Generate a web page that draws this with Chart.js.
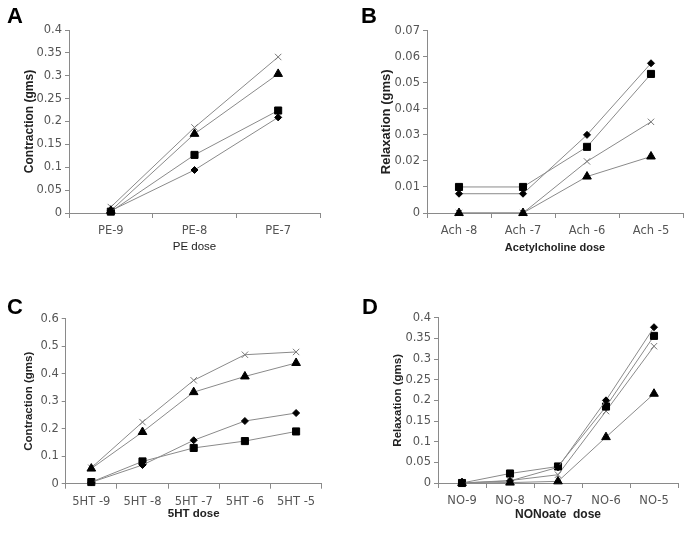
<!DOCTYPE html>
<html>
<head>
<meta charset="utf-8">
<script src="https://cdn.jsdelivr.net/npm/chart.js@4.4.1/dist/chart.umd.min.js"></script>
<style>
  html, body { margin: 0; padding: 0; background: #ffffff; }
  #wrap { position: relative; width: 696px; height: 534px; overflow: hidden; }
  .panel { position: absolute; width: 348px; height: 267px; }
  .letter { position: absolute; font: bold 22px "Liberation Sans", Arial, sans-serif; line-height: 22px; color: #000; }
</style>
</head>
<body>
<div id="wrap">
  <div class="panel" style="left:0;top:0"><canvas id="cA" width="348" height="267"></canvas></div>
  <div class="panel" style="left:348px;top:0"><canvas id="cB" width="348" height="267"></canvas></div>
  <div class="panel" style="left:0;top:267px"><canvas id="cC" width="348" height="267"></canvas></div>
  <div class="panel" style="left:348px;top:267px"><canvas id="cD" width="348" height="267"></canvas></div>
  <div class="letter" style="left:7px;top:5px">A</div>
  <div class="letter" style="left:361px;top:5px">B</div>
  <div class="letter" style="left:7px;top:296px">C</div>
  <div class="letter" style="left:362px;top:296px">D</div>
</div>
<script>
// ---- Panel A: PE ----
const catsA = ['PE-9', 'PE-8', 'PE-7'];
const a_diamond = [0.005, 0.094, 0.209];
const a_square  = [0.003, 0.127, 0.224];
const a_tri     = [0.005, 0.173, 0.304];
const a_cross   = [0.013, 0.187, 0.341];

// ---- Panel B: Acetylcholine ----
const catsB = ['Ach -8', 'Ach -7', 'Ach -6', 'Ach -5'];
const b_diamond = [0.0074, 0.0074, 0.030, 0.0575];
const b_square  = [0.010, 0.010, 0.0254, 0.0534];
const b_tri     = [0.0, 0.0, 0.014, 0.0217];
const b_cross   = [0.0, 0.0, 0.0198, 0.035];

// ---- Panel C: 5HT ----
const catsC = ['5HT -9', '5HT -8', '5HT -7', '5HT -6', '5HT -5'];
const c_diamond = [0.005, 0.068, 0.158, 0.228, 0.257];
const c_square  = [0.006, 0.081, 0.130, 0.155, 0.190];
const c_tri     = [0.055, 0.188, 0.333, 0.390, 0.439];
const c_cross   = [0.058, 0.224, 0.376, 0.469, 0.479];

// ---- Panel D: NONoate ----
const catsD = ['NO-9', 'NO-8', 'NO-7', 'NO-6', 'NO-5'];
const d_diamond = [0.0, 0.005, 0.038, 0.200, 0.377];
const d_square  = [0.0, 0.023, 0.040, 0.185, 0.356];
const d_tri     = [0.0, 0.001, 0.004, 0.111, 0.216];
const d_cross   = [0.0, 0.006, 0.020, 0.174, 0.331];

const LINE = '#8a8a8a';
const AXIS = '#8a8a8a';
const TICKC = '#555555';

function ds(data, style) {
  const base = {
    data: data, borderColor: LINE, borderWidth: 1, tension: 0, clip: false,
    pointBackgroundColor: '#000', pointBorderColor: '#000', pointBorderWidth: 1
  };
  if (style === 'diamond') Object.assign(base, { pointStyle: 'rectRot', pointRadius: 3.5 });
  if (style === 'square') Object.assign(base, { pointStyle: 'rect', pointRadius: 5 });
  if (style === 'tri') Object.assign(base, { pointStyle: 'triangle', pointRadius: 5 });
  if (style === 'cross') Object.assign(base, { pointStyle: 'crossRot', pointRadius: 4.5, pointBorderColor: '#777', pointBackgroundColor: '#777' });
  return base;
}

function makeChart(id, cats, series, opt) {
  new Chart(document.getElementById(id), {
    type: 'line',
    data: {
      labels: cats,
      datasets: [
        ds(series[0], 'diamond'),
        ds(series[1], 'square'),
        ds(series[2], 'tri'),
        ds(series[3], 'cross')
      ]
    },
    options: {
      responsive: false, animation: false, devicePixelRatio: 1,
      layout: { padding: opt.pad },
      plugins: { legend: { display: false }, tooltip: { enabled: false } },
      scales: {
        x: {
          offset: true,
          grid: { offset: true, drawOnChartArea: false, drawTicks: true, tickLength: 5, color: AXIS },
          border: { color: AXIS, width: 1 },
          ticks: { color: TICKC, padding: 6, maxRotation: 0, autoSkip: false, font: { family: 'DejaVu Sans', size: 11.5 } },
          title: { display: true, text: opt.xTitle, color: '#222', padding: 0,
                   font: { family: 'Liberation Sans', size: opt.xSize, weight: opt.xWeight } },
          afterFit: s => { s.height = opt.xH; }
        },
        y: {
          min: 0, max: opt.max,
          grid: { drawOnChartArea: false, drawTicks: true, tickLength: 4, color: AXIS },
          border: { color: AXIS, width: 1 },
          ticks: { stepSize: opt.step, color: TICKC, padding: 3, font: { family: 'DejaVu Sans', size: 11.5 },
                   callback: v => String(+Number(v).toFixed(4)) },
          title: { display: true, text: opt.yTitle, color: '#222', padding: 0,
                   font: { family: 'Liberation Sans', size: opt.ySize, weight: 'bold' } },
          afterFit: s => { s.width = opt.yW; }
        }
      }
    }
  });
}

makeChart('cA', catsA, [a_diamond, a_square, a_tri, a_cross], {
  pad: { left: 22, top: 30, right: 28, bottom: 12.8 }, yW: 47, xH: 41.2,
  max: 0.4, step: 0.05, yTitle: 'Contraction (gms)', ySize: 12,
  xTitle: 'PE dose', xSize: 11.5, xWeight: 'normal'
});
makeChart('cB', catsB, [b_diamond, b_square, b_tri, b_cross], {
  pad: { left: 31, top: 30.7, right: 13, bottom: 12.8 }, yW: 48, xH: 41.2,
  max: 0.07, step: 0.01, yTitle: 'Relaxation (gms)', ySize: 13,
  xTitle: 'Acetylcholine dose', xSize: 11, xWeight: 'bold'
});
makeChart('cC', catsC, [c_diamond, c_square, c_tri, c_cross], {
  pad: { left: 22.1, top: 51.7, right: 26.3, bottom: 12.8 }, yW: 43.6, xH: 37.5,
  max: 0.6, step: 0.1, yTitle: 'Contraction (gms)', ySize: 11.5,
  xTitle: '5HT dose', xSize: 11.5, xWeight: 'bold'
});
makeChart('cD', catsD, [d_diamond, d_square, d_tri, d_cross], {
  pad: { left: 42.8, top: 50.7, right: 18, bottom: 11.8 }, yW: 47.2, xH: 39.2,
  max: 0.4, step: 0.05, yTitle: 'Relaxation (gms)', ySize: 11.5,
  xTitle: 'NONoate  dose', xSize: 12, xWeight: 'bold'
});
</script>
</body>
</html>
